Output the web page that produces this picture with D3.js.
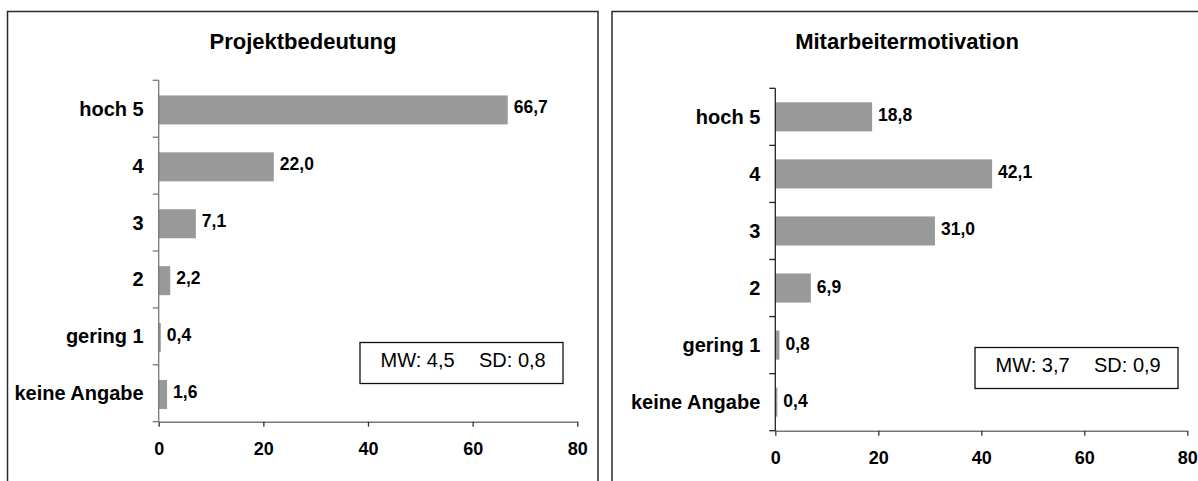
<!DOCTYPE html>
<html>
<head>
<meta charset="utf-8">
<script src="https://cdn.jsdelivr.net/npm/d3@7/dist/d3.min.js"></script>
<style>
  html, body { margin: 0; padding: 0; background: #fff; }
  svg { display: block; font-family: "Liberation Sans", Arial, Helvetica, sans-serif; }
</style>
</head>
<body>
<svg id="chart" width="1198" height="481"></svg>
<script>
// Antwortkategorien (von oben nach unten)
const categories = ["hoch 5", "4", "3", "2", "gering 1", "keine Angabe"];

// Anteile in Prozent
const projektbedeutungWerte = [66.7, 22.0, 7.1, 2.2, 0.4, 1.6];
const mitarbeitermotivationWerte = [18.8, 42.1, 31.0, 6.9, 0.8, 0.4];

// Achsenbeschriftung
const xTicks = [0, 20, 40, 60, 80];
const xMax = 80;

// Titel und Kennwerte der beiden Diagramme
const titles = ["Projektbedeutung", "Mitarbeitermotivation"];
const mwWerte = ["4,5", "3,7"];
const sdWerte = ["0,8", "0,9"];

const svg = d3.select("#chart");
const fmt = v => d3.format(".1f")(v).replace(".", ",");

function drawPanel(values, title, mw, sd, layout) {
  const g = svg.append("g");

  // Rahmen des Diagrammbereichs
  g.append("rect")
    .attr("x", layout.frame[0]).attr("y", layout.frame[1])
    .attr("width", layout.frame[2]).attr("height", layout.frame[3])
    .attr("fill", "none").attr("stroke", "#2a2a2a").attr("stroke-width", 1.5);

  // Titel
  g.append("text")
    .attr("x", layout.titleX).attr("y", 49)
    .attr("text-anchor", "middle")
    .attr("font-size", 22).attr("font-weight", "bold").attr("fill", "#000")
    .text(title);

  const x = d3.scaleLinear().domain([0, xMax]).range([layout.x0, layout.x1]);
  const y = d3.scaleBand().domain(categories).range([layout.yTop, layout.yBottom]).padding(0);
  const barH = y.bandwidth() * 0.51;

  // Balken
  g.selectAll("rect.bar")
    .data(values)
    .join("rect")
    .attr("class", "bar")
    .attr("x", x(0))
    .attr("y", (d, i) => y(categories[i]) + (y.bandwidth() - barH) / 2 + layout.barShift)
    .attr("width", d => x(d) - x(0))
    .attr("height", barH)
    .attr("fill", "#999999");

  // Werte neben den Balken
  g.selectAll("text.val")
    .data(values)
    .join("text")
    .attr("class", "val")
    .attr("x", d => x(d) + 6)
    .attr("y", (d, i) => y(categories[i]) + y.bandwidth() / 2 + 4.5)
    .attr("font-size", 17.5).attr("font-weight", "bold").attr("fill", "#000")
    .text(d => fmt(d));

  // Kategorienachse: Linie und Teilstriche an den Bandgrenzen
  const yEdges = categories.map(c => y(c)).concat([layout.yBottom]);
  g.append("line")
    .attr("x1", x(0)).attr("x2", x(0))
    .attr("y1", layout.yTop).attr("y2", layout.yBottom)
    .attr("stroke", layout.yAxisColor).attr("stroke-width", 1.3);
  g.selectAll("line.ytick")
    .data(yEdges)
    .join("line")
    .attr("class", "ytick")
    .attr("x1", x(0) - 6).attr("x2", x(0))
    .attr("y1", d => d).attr("y2", d => d)
    .attr("stroke", layout.yAxisColor).attr("stroke-width", 1.3);

  // Kategorienbeschriftung
  g.selectAll("text.cat")
    .data(categories)
    .join("text")
    .attr("class", "cat")
    .attr("x", x(0) - 15)
    .attr("y", d => y(d) + y.bandwidth() / 2 + 7)
    .attr("text-anchor", "end")
    .attr("font-size", 20).attr("font-weight", "bold").attr("fill", "#000")
    .text(d => d);

  // Werteachse
  const xAxis = d3.axisBottom(x).tickValues(xTicks).tickSize(5).tickSizeOuter(0).tickFormat(d3.format("d"));
  const ax = g.append("g")
    .attr("transform", `translate(0,${layout.yBottom})`)
    .call(xAxis);
  ax.select(".domain").attr("stroke", "#777").attr("stroke-width", 1.5);
  ax.selectAll(".tick line").attr("stroke", "#333").attr("stroke-width", 1.3);
  ax.selectAll(".tick text")
    .attr("y", 20.5).attr("dy", "0.71em")
    .attr("font-size", 18).attr("font-weight", "bold").attr("fill", "#000")
    .attr("font-family", "Liberation Sans, Arial, sans-serif");

  // Kennwertbox
  const bx = layout.box[0], by = layout.box[1];
  g.append("rect")
    .attr("x", bx).attr("y", by).attr("width", 203).attr("height", 41)
    .attr("fill", "#fff").attr("stroke", "#111").attr("stroke-width", 1.3);
  g.append("text")
    .attr("x", bx + 20.5).attr("y", by + 24.5)
    .attr("font-size", 20).attr("fill", "#000")
    .text("MW: " + mw);
  g.append("text")
    .attr("x", bx + 119).attr("y", by + 24.5)
    .attr("font-size", 20).attr("fill", "#000")
    .text("SD: " + sd);
}

drawPanel(projektbedeutungWerte, titles[0], mwWerte[0], sdWerte[0], {
  frame: [7.5, 11.5, 590.5, 480],
  titleX: 303,
  x0: 158.7, x1: 577.3,
  yTop: 80.3, yBottom: 421.7,
  yAxisColor: "#777",
  barShift: 1.2,
  box: [360, 342.5]
});

drawPanel(mitarbeitermotivationWerte, titles[1], mwWerte[1], sdWerte[1], {
  frame: [612, 11.5, 600, 480],
  titleX: 907,
  x0: 775.3, x1: 1187.3,
  yTop: 88.3, yBottom: 430.7,
  yAxisColor: "#222",
  barShift: 0,
  box: [975, 347.5]
});
</script>
</body>
</html>
